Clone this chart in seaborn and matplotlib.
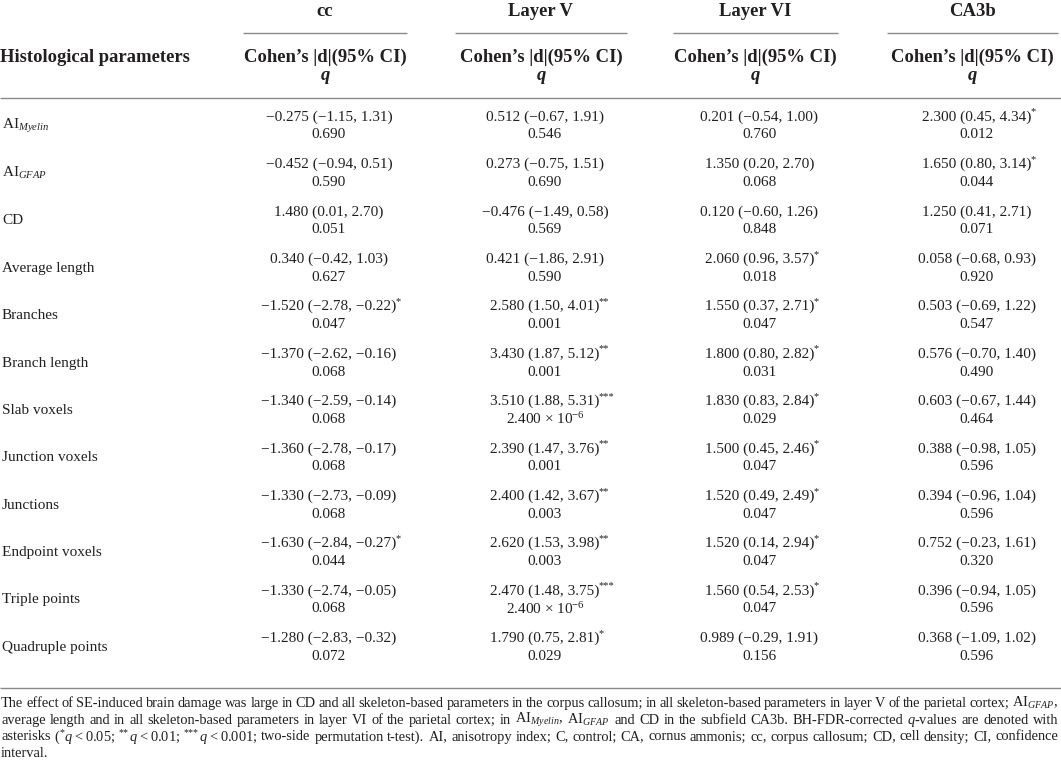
import re
import numpy as np
import pandas as pd
import seaborn as sns
import matplotlib
matplotlib.use("Agg")
import matplotlib.pyplot as plt

# ---------------- data ----------------
regions = ["cc", "Layer V", "Layer VI", "CA3b"]
params = [r"AI$_{Myelin}$", r"AI$_{GFAP}$", "CD", "Average length", "Branches",
          "Branch length", "Slab voxels", "Junction voxels", "Junctions",
          "Endpoint voxels", "Triple points", "Quadruple points"]

cc_d = [-0.275, -0.452, 1.480, 0.340, -1.520, -1.370, -1.340, -1.360, -1.330, -1.630, -1.330, -1.280]
cc_lo = [-1.15, -0.94, 0.01, -0.42, -2.78, -2.62, -2.59, -2.78, -2.73, -2.84, -2.74, -2.83]
cc_hi = [1.31, 0.51, 2.70, 1.03, -0.22, -0.16, -0.14, -0.17, -0.09, -0.27, -0.05, -0.32]
cc_q = [0.690, 0.590, 0.051, 0.627, 0.047, 0.068, 0.068, 0.068, 0.068, 0.044, 0.068, 0.072]

l5_d = [0.512, 0.273, -0.476, 0.421, 2.580, 3.430, 3.510, 2.390, 2.400, 2.620, 2.470, 1.790]
l5_lo = [-0.67, -0.75, -1.49, -1.86, 1.50, 1.87, 1.88, 1.47, 1.42, 1.53, 1.48, 0.75]
l5_hi = [1.91, 1.51, 0.58, 2.91, 4.01, 5.12, 5.31, 3.76, 3.67, 3.98, 3.75, 2.81]
l5_q = [0.546, 0.690, 0.569, 0.590, 0.001, 0.001, 2.4e-6, 0.001, 0.003, 0.003, 2.4e-6, 0.029]

l6_d = [0.201, 1.350, 0.120, 2.060, 1.550, 1.800, 1.830, 1.500, 1.520, 1.520, 1.560, 0.989]
l6_lo = [-0.54, 0.20, -0.60, 0.96, 0.37, 0.80, 0.83, 0.45, 0.49, 0.14, 0.54, -0.29]
l6_hi = [1.00, 2.70, 1.26, 3.57, 2.71, 2.82, 2.84, 2.46, 2.49, 2.94, 2.53, 1.91]
l6_q = [0.760, 0.068, 0.848, 0.018, 0.047, 0.031, 0.029, 0.047, 0.047, 0.047, 0.047, 0.156]

ca_d = [2.300, 1.650, 1.250, 0.058, 0.503, 0.576, 0.603, 0.388, 0.394, 0.752, 0.396, 0.368]
ca_lo = [0.45, 0.80, 0.41, -0.68, -0.69, -0.70, -0.67, -0.98, -0.96, -0.23, -0.94, -1.09]
ca_hi = [4.34, 3.14, 2.71, 0.93, 1.22, 1.40, 1.44, 1.05, 1.04, 1.61, 1.05, 1.02]
ca_q = [0.012, 0.044, 0.071, 0.920, 0.547, 0.490, 0.464, 0.596, 0.596, 0.320, 0.596, 0.596]

footnote_lines = [
    r"The effect of SE-induced brain damage was large in CD and all skeleton-based parameters in the corpus callosum; in all skeleton-based parameters in layer V of the parietal cortex; AI$_{GFAP}$,",
    r"average length and in all skeleton-based parameters in layer VI of the parietal cortex; in AI$_{Myelin}$, AI$_{GFAP}$ and CD in the subfield CA3b. BH-FDR-corrected $q$-values are denoted with",
    "asterisks (^{*}$q$\u2009<\u20090.05; ^{**}$q$\u2009<\u20090.01; ^{***}$q$\u2009<\u20090.001; two-side permutation t-test). AI, anisotropy index; C, control; CA, cornus ammonis; cc, corpus callosum; CD, cell density; CI, confidence",
    "interval.",
]

# -------------- styling --------------
sns.set_theme(style="white")
plt.rcParams["font.family"] = ["Liberation Serif", "DejaVu Serif"]
plt.rcParams["mathtext.fontset"] = "custom"
plt.rcParams["mathtext.rm"] = "Liberation Serif"
plt.rcParams["mathtext.it"] = "Liberation Serif:italic"
plt.rcParams["mathtext.bf"] = "Liberation Serif:bold"
plt.rcParams["mathtext.default"] = "it"

W, H = 1061, 768
fig = plt.figure(figsize=(W / 100, H / 100), dpi=100)
ax = fig.add_axes([0, 0, 1, 1])
ax.set_xlim(0, W)
ax.set_ylim(H, 0)
ax.axis("off")

TXT = "#231f20"
RULE = "#8a8a8a"
FS_BODY = 11.0
FS_HEAD = 13.4
FS_STAR = 7.5

# column layout
col_spans = [(243, 407), (455, 627), (673, 838), (887, 1058)]
col_centers = [(a + b) / 2 for a, b in col_spans]
val_offset = 4

ROW0 = 117.0
ROW_H = 47.4
Q_OFF = 18.0

fig.canvas.draw()
renderer = fig.canvas.get_renderer()


def stars(q):
    if q < 0.001:
        return "***"
    if q < 0.01:
        return "**"
    if q < 0.05:
        return "*"
    return ""


def fmt_num(v, nd):
    return f"{v:.{nd}f}".replace("-", "\u2212")


def fmt_q(q):
    if q < 0.001:
        m, e = f"{q:.3e}".split("e")
        return f"{m} \u00d7 10$^{{{int(e)}}}$"
    return f"{q:.3f}"


columns = [
    (cc_d, cc_lo, cc_hi, cc_q),
    (l5_d, l5_lo, l5_hi, l5_q),
    (l6_d, l6_lo, l6_hi, l6_q),
    (ca_d, ca_lo, ca_hi, ca_q),
]

# header
for (a, b), name in zip(col_spans, regions):
    c = (a + b) / 2
    ax.text(c, 12, name, ha="center", va="center", fontsize=FS_HEAD,
            fontweight="bold", color=TXT)
    ax.hlines(33, a, b, color=RULE, lw=1.0)
    ax.text(c, 57, "Cohen\u2019s |d|(95% CI)", ha="center", va="center",
            fontsize=FS_HEAD, fontweight="bold", color=TXT)
    ax.text(c, 75, "q", ha="center", va="center", fontsize=FS_HEAD,
            fontweight="bold", fontstyle="italic", color=TXT)
ax.text(0, 57, "Histological parameters", ha="left", va="center",
        fontsize=FS_HEAD, fontweight="bold", color=TXT)
ax.hlines(98, 0, W, color=RULE, lw=1.0)

# body
for i, p in enumerate(params):
    y = ROW0 + i * ROW_H
    ax.text(2, y + Q_OFF / 2, p, ha="left", va="center", fontsize=FS_BODY, color=TXT)
    for (d, lo, hi, q), c in zip(columns, col_centers):
        line1 = f"{fmt_num(d[i], 3)} ({fmt_num(lo[i], 2)}, {fmt_num(hi[i], 2)})"
        t = ax.text(c + val_offset, y, line1, ha="center", va="center",
                    fontsize=FS_BODY, color=TXT)
        s = stars(q[i])
        if s:
            right = t.get_window_extent(renderer).x1
            ax.text(right - 0.8, y - 5, s, ha="left", va="center",
                    fontsize=FS_STAR, color=TXT)
        ax.text(c + val_offset, y + Q_OFF, fmt_q(q[i]), ha="center", va="center",
                fontsize=FS_BODY, color=TXT)

BOTTOM = ROW0 + (len(params) - 1) * ROW_H + Q_OFF + 32
ax.hlines(BOTTOM, 0, W, color=RULE, lw=1.0)


# footnote, justified; words may contain ^{...} superscript segments
def segments(word):
    parts = re.split(r"(\^\{[^}]*\})", word)
    out = []
    for p in parts:
        if not p:
            continue
        if p.startswith("^{"):
            out.append((p[2:-1], True))
        else:
            out.append((p, False))
    return out


def build_word(word, y, fs):
    arts = []
    for txt, sup in segments(word):
        if sup:
            a = ax.text(0, y - 4.5, txt, ha="left", va="center",
                        fontsize=fs * 0.7, color=TXT)
        else:
            a = ax.text(0, y, txt, ha="left", va="center", fontsize=fs, color=TXT)
        arts.append(a)
    widths = [a.get_window_extent(renderer).width for a in arts]
    return arts, widths


x0, x1 = 1, 1058
probe_fs = 10.0
probe = ax.text(0, 0, "a b", fontsize=probe_fs)
probe2 = ax.text(0, 0, "ab", fontsize=probe_fs)
space_w = probe.get_window_extent(renderer).width - probe2.get_window_extent(renderer).width
probe.remove(); probe2.remove()
scales = []
for line in footnote_lines[:-1]:
    words = line.split(" ")
    tot = 0
    for w in words:
        arts, ws = build_word(w, 0, probe_fs)
        tot += sum(ws)
        for a in arts:
            a.remove()
    scales.append((x1 - x0) / (tot + 0.75 * (len(words) - 1) * space_w))
FS_FOOT = probe_fs * min(scales)

FY0 = BOTTOM + 15
FLH = 16.8
for li, line in enumerate(footnote_lines):
    y = FY0 + li * FLH
    words = line.split(" ")
    built = [build_word(w, y, FS_FOOT) for w in words]
    wtot = [sum(ws) for _, ws in built]
    last = li == len(footnote_lines) - 1
    if last or len(words) == 1:
        gap = space_w * FS_FOOT / probe_fs
    else:
        gap = (x1 - x0 - sum(wtot)) / (len(words) - 1)
    x = x0
    for (arts, ws), wt in zip(built, wtot):
        xx = x
        for a, w in zip(arts, ws):
            a.set_x(xx)
            xx += w
        x += wt + gap

fig.savefig("out.png", dpi=100, facecolor="white")
